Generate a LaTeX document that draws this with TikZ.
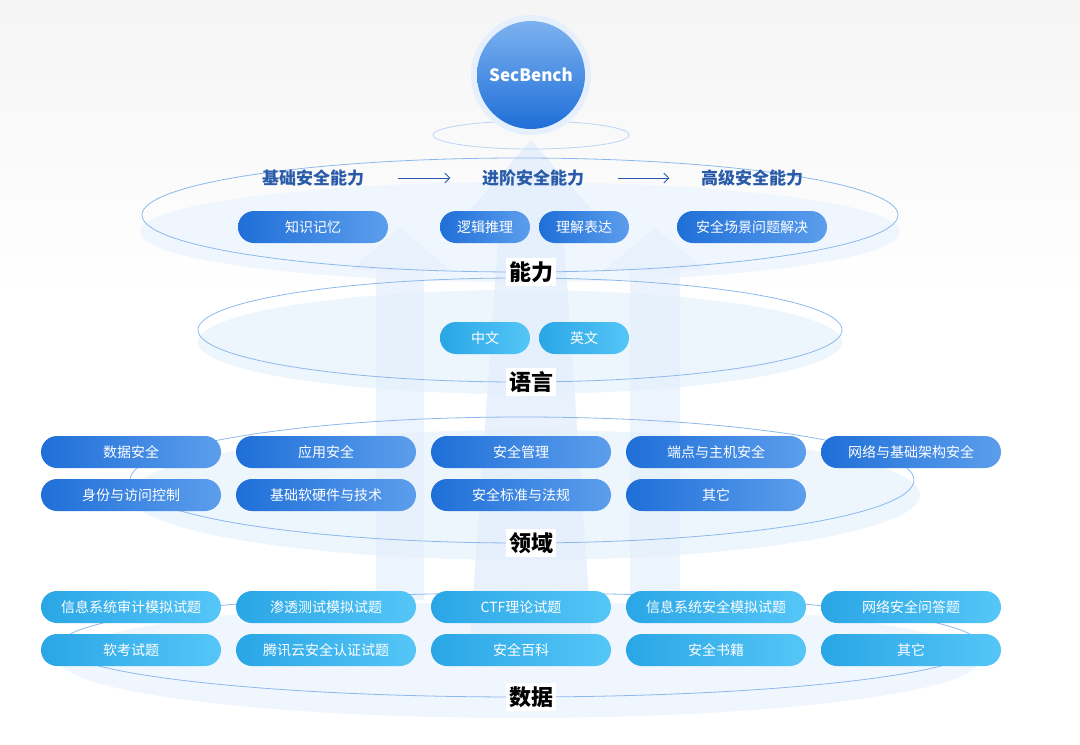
\documentclass[tikz,border=0pt]{standalone}
\usepackage{fontspec}
\setmainfont{Noto Sans CJK SC}
\usepackage{tikz}
\usetikzlibrary{arrows.meta,positioning,shapes.geometric,calc}
\definecolor{deepblue}{HTML}{1F6FD8}
\definecolor{softblue}{HTML}{5C9EEC}
\definecolor{cyanA}{HTML}{2AA6E6}
\definecolor{cyanB}{HTML}{55C6F7}
\definecolor{ringblue}{HTML}{8DB8EE}
\definecolor{diskfill}{HTML}{E6F0FC}
\definecolor{headblue}{HTML}{2A5BA8}
\tikzset{
  pill/.style={rounded corners=16pt, minimum height=32pt, text=white,
    font=\fontsize{14}{16}\selectfont, inner sep=0pt},
  darkpill/.style={pill, left color=deepblue, right color=softblue},
  lightpill/.style={pill, left color=cyanA, right color=cyanB},
  ring/.style={draw=ringblue, line width=0.8pt},
  layer/.style={fill=white, inner sep=3pt, font=\fontsize{22}{24}\selectfont\bfseries},
  head/.style={text=headblue, font=\fontsize{17}{19}\selectfont\bfseries},
  rise/.style={fill=diskfill, opacity=0.75}
}
\begin{document}
\begin{tikzpicture}[x=1pt,y=-1pt]
\useasboundingbox (0,0) rectangle (1080,745);
\fill[top color=black!4, bottom color=white] (0,0) rectangle (1080,300);

% Disks (lower fill bands)
\fill[diskfill!60] (520,660) ellipse (460 and 58);
\fill[diskfill!70] (525,495) ellipse (395 and 65);
\fill[diskfill!70] (520,342) ellipse (322 and 52);
\fill[diskfill!60] (520,232) ellipse (380 and 50);

% Rising arrows
\fill[rise] (376,600) -- (376,270) -- (350,270) -- (400,228) -- (450,270) -- (424,270) -- (424,600) -- cycle;
\fill[rise] (630,600) -- (630,270) -- (604,270) -- (655,228) -- (706,270) -- (680,270) -- (680,600) -- cycle;
\fill[diskfill, opacity=0.9] (470,640) -- (500,210) -- (470,210) -- (531,140) -- (592,210) -- (562,210) -- (592,640) -- cycle;

% Rings
\draw[ring] (520,215) ellipse (378 and 57);
\draw[ring] (520,330) ellipse (322 and 52);
\draw[ring] (522,480) ellipse (392 and 63);
\draw[ring] (520,645) ellipse (460 and 52);
\draw[ring, draw=ringblue!60] (531,135) ellipse (98 and 14);

% Top circle
\fill[diskfill] (531,75) circle (60pt);
\node[circle, minimum size=108pt, top color=softblue!80, bottom color=deepblue, text=white,
  font=\fontsize{17}{19}\selectfont\bfseries] (bench) at (531,75) {SecBench};

% Capability headers
\node[head] (basic) at (313,178) {基础安全能力};
\node[head] (adv) at (533,178) {进阶安全能力};
\node[head] (high) at (752,178) {高级安全能力};
\draw[-{Straight Barb[length=5pt]}, headblue, line width=1pt] ($(basic.east)+(30,0)$) -- ($(adv.west)+(-28,0)$);
\draw[-{Straight Barb[length=5pt]}, headblue, line width=1pt] ($(adv.east)+(30,0)$) -- ($(high.west)+(-28,0)$);

% Ability pills
\node[darkpill, minimum width=150pt] (mem) at (313,227) {知识记忆};
\node[darkpill, minimum width=90pt] (logic) at (485,227) {逻辑推理};
\node[darkpill, minimum width=90pt] (expr) at (584,227) {理解表达};
\node[darkpill, minimum width=150pt] (scene) at (752,227) {安全场景问题解决};

% Language pills
\node[lightpill, minimum width=90pt] (zh) at (485,338) {中文};
\node[lightpill, minimum width=90pt] (en) at (584,338) {英文};

% Domain pills
\foreach \t [count=\i] in {数据安全,应用安全,安全管理,端点与主机安全,网络与基础架构安全}
  \node[darkpill, minimum width=180pt] (dom1\i) at ({131+195*(\i-1)},452) {\t};
\foreach \t [count=\i] in {身份与访问控制,基础软硬件与技术,安全标准与法规,其它}
  \node[darkpill, minimum width=180pt] (dom2\i) at ({131+195*(\i-1)},495) {\t};

% Data pills
\foreach \t [count=\i] in {信息系统审计模拟试题,渗透测试模拟试题,CTF理论试题,信息系统安全模拟试题,网络安全问答题}
  \node[lightpill, minimum width=180pt] (dat1\i) at ({131+195*(\i-1)},607) {\t};
\foreach \t [count=\i] in {软考试题,腾讯云安全认证试题,安全百科,安全书籍,其它}
  \node[lightpill, minimum width=180pt] (dat2\i) at ({131+195*(\i-1)},650) {\t};

% Layer labels
\node[layer] (ability) at (531,272) {能力};
\node[layer] (lang) at (531,382) {语言};
\node[layer] (domain) at (531,543) {领域};
\node[layer] (data) at (531,697) {数据};
\end{tikzpicture}
\end{document}
